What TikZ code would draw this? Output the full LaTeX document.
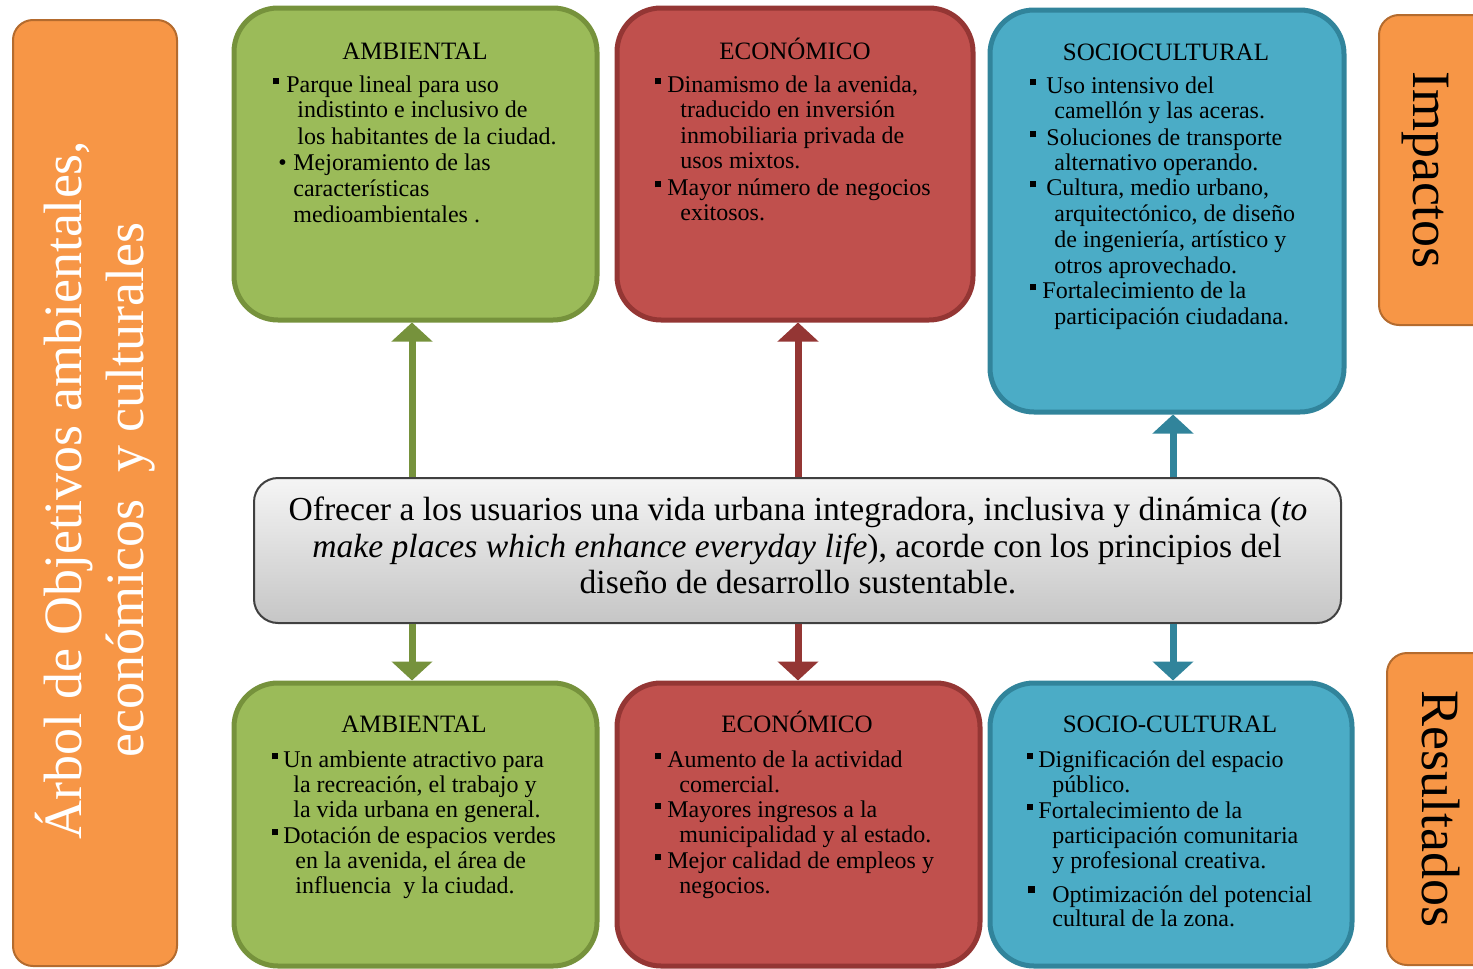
\documentclass[tikz,border=0pt]{standalone}
\usepackage{fontspec}
\setmainfont{Liberation Serif}
\usetikzlibrary{arrows.meta,fit}
\definecolor{gfill}{HTML}{9BBB59}
\definecolor{gline}{HTML}{76923C}
\definecolor{rfill}{HTML}{C0504D}
\definecolor{rline}{HTML}{943634}
\definecolor{bfill}{HTML}{4BACC6}
\definecolor{bline}{HTML}{31849B}
\definecolor{ofill}{HTML}{F79646}
\definecolor{oline}{HTML}{B46B2E}
\newcommand\sqb{\rule[3.8pt]{3pt}{3pt}}
\newcommand\bigsqb{\rule[4.3pt]{3.5pt}{3.5pt}}
\newcommand\bl[2]{\makebox[#1][l]{#2}}
\begin{document}
\begin{tikzpicture}[x=0.5pt,y=-0.5pt,
  card/.style={draw, line width=2.5pt, rounded corners=22pt, inner sep=0pt},
  sidebox/.style={draw=oline, fill=ofill, line width=1pt, rounded corners=10pt, inner sep=0pt},
  ttl/.style={anchor=base, inner sep=0pt, font=\fontsize{12.5}{14}\selectfont},
  bt/.style={anchor=base west, inner sep=0pt, font=\fontsize{12}{13}\selectfont},
  ctext/.style={anchor=base, inner sep=0pt, font=\fontsize{16.8}{18}\selectfont},
  big/.style={font=\fontsize{27}{31}\selectfont, inner sep=0pt},
  conn/.style={line width=3.5pt, -{Triangle[width=20pt,length=9.5pt]}},
]
\useasboundingbox (0,0) rectangle (1473,969);

% boxes
\node[sidebox, fit={(13,20)(177,966)}] (arb) {};
\node[sidebox, fit={(1379,15)(1495,325)}] (imp) {};
\node[sidebox, fit={(1387,653)(1495,965)}] (res) {};
\node[card, draw=gline, fill=gfill, fit={(234,8)(597,320)}] (ta) {};
\node[card, draw=rline, fill=rfill, fit={(617,8)(973,320)}] (te) {};
\node[card, draw=bline, fill=bfill, fit={(990,10)(1344,412)}] (ts) {};
\node[draw=black!75, line width=1pt, rounded corners=12pt, top color=gray!8, bottom color=gray!45, inner sep=0pt, fit={(254,478)(1341,623)}] (obj) {};
\node[card, draw=gline, fill=gfill, fit={(234,683)(597,966)}] (ba) {};
\node[card, draw=rline, fill=rfill, fit={(617,683)(980,966)}] (be) {};
\node[card, draw=bline, fill=bfill, fit={(990,683)(1352,966)}] (bs) {};

% connectors
\coordinate (xg) at (412,0);
\coordinate (xr) at (798,0);
\coordinate (xb) at (1173,0);
\draw[conn, gline] (obj.north -| xg) -- (ta.south -| xg);
\draw[conn, rline] (obj.north -| xr) -- (te.south -| xr);
\draw[conn, bline] (obj.north -| xb) -- (ts.south -| xb);
\draw[conn, gline] (obj.south -| xg) -- (ba.north -| xg);
\draw[conn, rline] (obj.south -| xr) -- (be.north -| xr);
\draw[conn, bline] (obj.south -| xb) -- (bs.north -| xb);

% side labels
\node[big, text=white, rotate=90, align=center] (arbt) at (95,490) {Árbol de Objetivos ambientales,\\económicos \ y culturales};
\node[big, rotate=-90, anchor=base] (impt) at (1413,170) {Impactos};
\node[big, rotate=-90, anchor=base] (rest) at (1422,809) {Resultados};

% central objective
\node[ctext] (o1) at (798,520) {Ofrecer a los usuarios una vida urbana integradora, inclusiva y dinámica (\textit{to}};
\node[ctext] (o2) at (797,557) {\textit{make places which enhance everyday life}), acorde con los principios del};
\node[ctext] (o3) at (798,593) {diseño de desarrollo sustentable.};

% top green
\node[ttl] (ta0) at (415,59) {AMBIENTAL};
\node[bt] (ta1) at (273,92) {\bl{6.5pt}{\sqb}Parque lineal para uso};
\node[bt] (ta2) at (297,117) {indistinto e inclusivo de};
\node[bt] (ta3) at (297,144) {los habitantes de la ciudad.};
\node[bt] (ta4) at (278,170) {\bl{7.5pt}{\textbullet}Mejoramiento de las};
\node[bt] (ta5) at (293,196) {características};
\node[bt] (ta6) at (293,222) {medioambientales .};

% top red
\node[ttl] (te0) at (795,59) {ECONÓMICO};
\node[bt] (te1) at (655,92) {\bl{6pt}{\sqb}Dinamismo de la avenida,};
\node[bt] (te2) at (680,117) {traducido en inversión};
\node[bt] (te3) at (680,143) {inmobiliaria privada de};
\node[bt] (te4) at (680,168) {usos mixtos.};
\node[bt] (te5) at (655,195) {\bl{6pt}{\sqb}Mayor número de negocios};
\node[bt] (te6) at (680,220) {exitosos.};

% top blue
\node[ttl] (ts0) at (1166,60) {SOCIOCULTURAL};
\node[bt] (ts1) at (1030,93) {\bl{8pt}{\sqb}Uso intensivo del};
\node[bt] (ts2) at (1054,118) {camellón y las aceras.};
\node[bt] (ts3) at (1030,145) {\bl{8pt}{\sqb}Soluciones de transporte};
\node[bt] (ts4) at (1054,170) {alternativo operando.};
\node[bt] (ts5) at (1030,195) {\bl{8pt}{\sqb}Cultura, medio urbano,};
\node[bt] (ts6) at (1054,221) {arquitectónico, de diseño};
\node[bt] (ts7) at (1054,247) {de ingeniería, artístico y};
\node[bt] (ts8) at (1054,273) {otros aprovechado.};
\node[bt] (ts9) at (1030,298) {\bl{6pt}{\sqb}Fortalecimiento de la};
\node[bt] (ts10) at (1054,324) {participación ciudadana.};

% bottom green
\node[ttl] (ba0) at (414,732) {AMBIENTAL};
\node[bt] (ba1) at (272,767) {\bl{5.5pt}{\sqb}Un ambiente atractivo para};
\node[bt] (ba2) at (293,792) {la recreación, el trabajo y};
\node[bt] (ba3) at (293,817) {la vida urbana en general.};
\node[bt] (ba4) at (272,843) {\bl{5.5pt}{\sqb}Dotación de espacios verdes};
\node[bt] (ba5) at (295,868) {en la avenida, el área de};
\node[bt] (ba6) at (295,893) {influencia \ y la ciudad.};

% bottom red
\node[ttl] (be0) at (797,732) {ECONÓMICO};
\node[bt] (be1) at (655,767) {\bl{6pt}{\sqb}Aumento de la actividad};
\node[bt] (be2) at (679,792) {comercial.};
\node[bt] (be3) at (655,817) {\bl{6pt}{\sqb}Mayores ingresos a la};
\node[bt] (be4) at (679,842) {municipalidad y al estado.};
\node[bt] (be5) at (655,868) {\bl{6pt}{\sqb}Mejor calidad de empleos y};
\node[bt] (be6) at (679,893) {negocios.};

% bottom blue
\node[ttl] (bs0) at (1170,732) {SOCIO-CULTURAL};
\node[bt] (bs1) at (1027,767) {\bl{5.5pt}{\sqb}Dignificación del espacio};
\node[bt] (bs2) at (1052,792) {público.};
\node[bt] (bs3) at (1027,818) {\bl{5.5pt}{\sqb}Fortalecimiento de la};
\node[bt] (bs4) at (1052,843) {participación comunitaria};
\node[bt] (bs5) at (1052,868) {y profesional creativa.};
\node[bt] (bs6) at (1028,902) {\bl{12pt}{\bigsqb}Optimización del potencial};
\node[bt] (bs7) at (1052,926) {cultural de la zona.};
\end{tikzpicture}
\end{document}
